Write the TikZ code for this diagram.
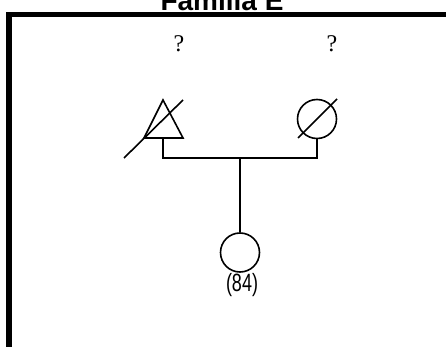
\documentclass[tikz,border=0pt]{standalone}
\usepackage{fontspec}
\newfontfamily\arialfont{Liberation Sans}
\newfontfamily\timesfont{Liberation Serif}
\usetikzlibrary{positioning}

\begin{document}
\begin{tikzpicture}[
  x=1pt, y=-1pt,
  pedline/.style={line width=1.6pt, black},
  framebox/.style={line width=5.5pt, black},
  unknown/.style={font=\timesfont\fontsize{24}{26}\selectfont},
  person/.style={circle, draw, line width=1.6pt, minimum size=39pt, inner sep=0pt}
]
\useasboundingbox (0,0) rectangle (446,347);

% title and frame
\node[font=\arialfont\bfseries\fontsize{28}{30}\selectfont, anchor=base] (title) at (222,11) {Familia E};
\draw[framebox] (9,347) -- (9,14.5) -- (446,14.5);

% parents
\draw[pedline] (163,100) -- (183,138) -- (144,138) -- cycle;
\coordinate (father) at (163,138);
\draw[pedline] (124,158) -- (183,100);
\node[person] (mother) at (317,119) {};
\draw[pedline] (298,138) -- (337,99);

\node[unknown] (fq) at (179,44) {?};
\node[unknown] (mq) at (332,44) {?};

% couple line
\coordinate (fcorner) at (163,158);
\coordinate (mcorner) at (317,158);
\coordinate (sibs) at (240,158);
\draw[pedline] (father) -- (fcorner) -- (mcorner) -- (mother.south);

% child
\node[person] (child) at (240,252.5) {};
\draw[pedline] (sibs) -- (child.north);
\node[font=\arialfont\fontsize{25}{27}\selectfont, xscale=0.72] (age) at (242,285.5) {(84)};
\end{tikzpicture}
\end{document}
